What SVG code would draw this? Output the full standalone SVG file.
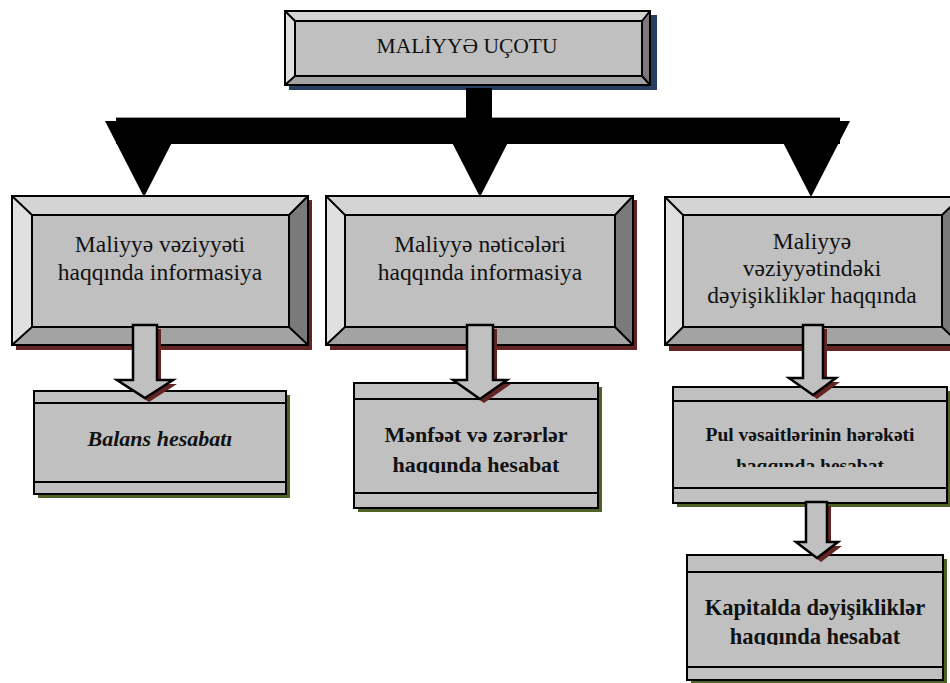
<svg xmlns="http://www.w3.org/2000/svg" width="950" height="683" viewBox="0 0 950 683">
<style>
.o{stroke:#000;stroke-width:2;stroke-linejoin:miter}
.bt{fill:#d4d4d4}.bl{fill:#e0e0e0}.br{fill:#7a7a7a}.bb{fill:#a3a3a3}
.ln{stroke:#000;stroke-width:2;fill:none}
.t{font-family:"Liberation Serif","Times New Roman",serif;fill:#111;text-anchor:middle}
.r{font-size:23.5px}
.b{font-weight:bold}
.arr{fill:#c0c0c0;stroke:#000;stroke-width:2.5;stroke-linejoin:miter}
.ash{fill:#632523}
.gs{fill:#4f6228}
.rs{fill:#632523}
</style>
<defs>
<clipPath id="c2"><rect x="354" y="383" width="244" height="90"/></clipPath>
<clipPath id="c3"><rect x="673" y="387" width="274" height="80"/></clipPath>
<clipPath id="c4"><rect x="687" y="555" width="256" height="90"/></clipPath>
</defs>

<g id="root">
<rect x="289" y="15" width="368" height="75" fill="#243f60"/>
<rect x="285" y="11" width="365" height="74" class="bt"/>
<polygon points="285,11 295,21 295,76 285,85" class="bl"/>
<polygon points="650,11 642,21 642,76 650,85" class="br"/>
<polygon points="285,85 295,76 642,76 650,85" class="bb"/>
<rect x="295" y="21" width="347" height="55" class="ln" style="fill:#c0c0c0"/>
<path d="M285,11L295,21M650,11L642,21M285,85L295,76M650,85L642,76" class="ln"/>
<rect x="285" y="11" width="365" height="74" class="ln"/>
<text x="467" y="53" class="t" font-size="21.5">MALİYYƏ UÇOTU</text>
</g>

<g id="n1">
<rect x="16" y="200" width="296" height="150" class="rs"/>
<rect x="12" y="196" width="296" height="149" class="bt"/>
<polygon points="12,196 32,215 32,327 12,345" class="bl"/>
<polygon points="308,196 289,215 289,327 308,345" class="br"/>
<polygon points="12,345 32,327 289,327 308,345" class="bb"/>
<rect x="32" y="215" width="257" height="112" class="ln" style="fill:#c0c0c0"/>
<path d="M12,196L32,215M308,196L289,215M12,345L32,327M308,345L289,327" class="ln"/>
<rect x="12" y="196" width="296" height="149" class="ln"/>
<text class="t r" x="160" y="252">Maliyyə vəziyyəti</text>
<text class="t r" x="160" y="280">haqqında informasiya</text>
</g>

<g id="n2">
<rect x="330" y="200" width="307" height="150" class="rs"/>
<rect x="326" y="196" width="307" height="149" class="bt"/>
<polygon points="326,196 345,215 345,327 326,345" class="bl"/>
<polygon points="633,196 615,215 615,327 633,345" class="br"/>
<polygon points="326,345 345,327 615,327 633,345" class="bb"/>
<rect x="345" y="215" width="270" height="112" class="ln" style="fill:#c0c0c0"/>
<path d="M326,196L345,215M633,196L615,215M326,345L345,327M633,345L615,327" class="ln"/>
<rect x="326" y="196" width="307" height="149" class="ln"/>
<text class="t r" x="480" y="252">Maliyyə nəticələri</text>
<text class="t r" x="480" y="280">haqqında informasiya</text>
</g>

<g id="n3">
<rect x="669" y="201" width="296" height="150" class="rs"/>
<rect x="665" y="197" width="296" height="148" class="bt"/>
<polygon points="665,197 683,215 683,327 665,345" class="bl"/>
<polygon points="961,197 942,215 942,327 961,345" class="br"/>
<polygon points="665,345 683,327 942,327 961,345" class="bb"/>
<rect x="683" y="215" width="259" height="112" class="ln" style="fill:#c0c0c0"/>
<path d="M665,197L683,215M961,197L942,215M665,345L683,327M961,345L942,327" class="ln"/>
<rect x="665" y="197" width="296" height="148" class="ln"/>
<text class="t r" x="812" y="249">Maliyyə</text>
<text class="t r" x="812" y="276">vəziyyətindəki</text>
<text class="t r" x="812" y="303">dəyişikliklər haqqında</text>
</g>

<g id="n4">
<rect x="38" y="395" width="252" height="103" class="gs"/>
<rect x="34" y="391" width="252" height="103" class="ln" style="fill:#c0c0c0"/>
<path d="M34,403H286M34,482H286" class="ln"/>
<text class="t b" x="160" y="446" font-size="22" font-style="italic">Balans hesabatı</text>
</g>

<g id="n5">
<rect x="358" y="387" width="244" height="125" class="gs"/>
<rect x="354" y="383" width="244" height="125" class="ln" style="fill:#c0c0c0"/>
<path d="M354,399H598M354,493H598" class="ln"/>
<text class="t b" x="476" y="442" font-size="22">Mənfəət və zərərlər</text>
<text class="t b" x="476" y="472" font-size="22" clip-path="url(#c2)">haqqında hesabat</text>
</g>

<g id="n6">
<rect x="677" y="391" width="274" height="116" class="gs"/>
<rect x="673" y="387" width="274" height="116" class="ln" style="fill:#c0c0c0"/>
<path d="M673,401H947M673,488H947" class="ln"/>
<text class="t b" x="810" y="441" font-size="19.5">Pul vəsaitlərinin hərəkəti</text>
<text class="t b" x="810" y="472" font-size="19.5" clip-path="url(#c3)">haqqında hesabat</text>
</g>

<g id="n7">
<rect x="691" y="559" width="256" height="125" class="gs"/>
<rect x="687" y="555" width="256" height="125" class="ln" style="fill:#c0c0c0"/>
<path d="M687,572H943M687,667H943" class="ln"/>
<text class="t b" x="815" y="615" font-size="22.5">Kapitalda dəyişikliklər</text>
<text class="t b" x="815" y="644" font-size="22.5" clip-path="url(#c4)">haqqında hesabat</text>
</g>

<g id="connectors">
<g fill="#000">
<rect x="466" y="88" width="26" height="30"/>
<rect x="116" y="117" width="724" height="27"/>
<polygon points="105,121 183,121 144,197"/>
<polygon points="441,121 519,121 480,197"/>
<polygon points="772,121 850,121 811,197"/>
</g>
<path d="M116,117.5H466M492,117.5H840" stroke="#9a9a9a" stroke-width="1"/>
<g>
<path d="M137,329V384H121L149,402L177,384H161V329Z" class="ash"/>
<path d="M133,325V380H117L145,398L173,380H157V325Z" class="arr"/>
</g>
<g>
<path d="M471,329V384H457L484,403L511,384H497V329Z" class="ash"/>
<path d="M467,325V380H453L480,399L507,380H493V325Z" class="arr"/>
</g>
<g>
<path d="M807,329V382H793L817,399L840,382H827V329Z" class="ash"/>
<path d="M803,325V378H789L813,395L836,378H823V325Z" class="arr"/>
</g>
<g>
<path d="M810,506V546H800L821,562L842,546H831V506Z" class="ash"/>
<path d="M806,502V542H796L817,558L838,542H827V502Z" class="arr"/>
</g>
</g>
</svg>
